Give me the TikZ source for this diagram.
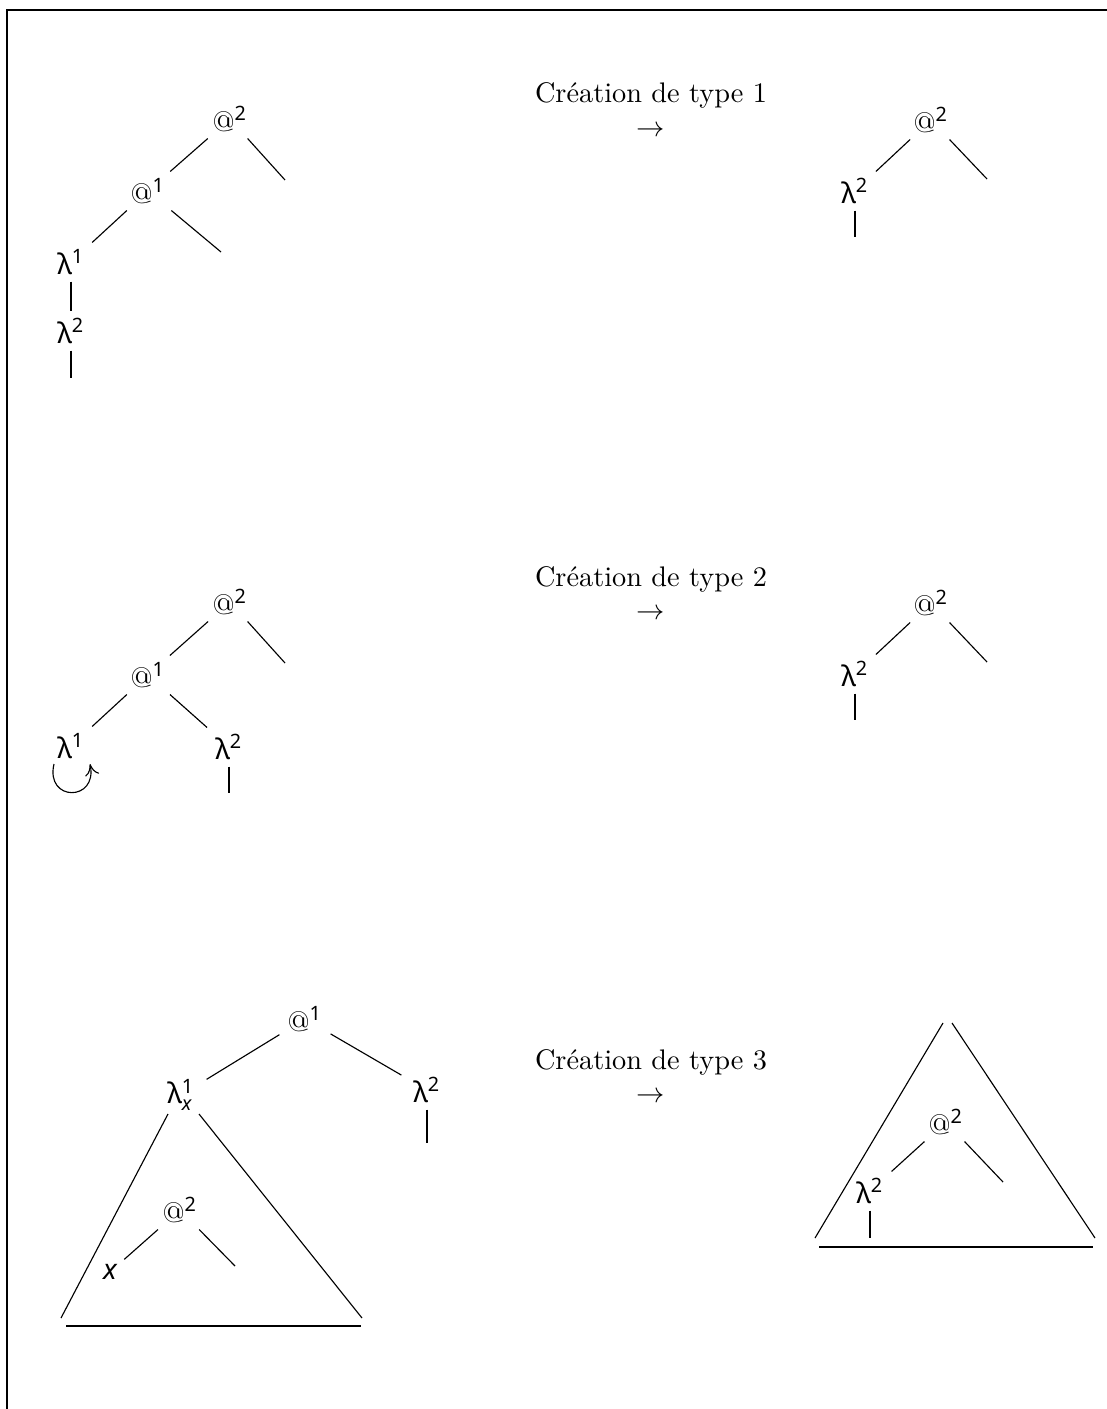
\documentclass[tikz,border=0pt]{standalone}
\usepackage{amsmath}
\usepackage{fontspec}
\usetikzlibrary{arrows.meta}
\newfontfamily\tf{Noto Sans}
\newcommand\atn[1]{@\textsuperscript{\tf #1}}
\newcommand\lamn[1]{{\tf λ}\textsuperscript{\tf #1}}
\begin{document}
\begin{tikzpicture}[x=0.3533pt,y=-0.3533pt,
  lab/.style={inner sep=0pt,minimum width=17.7pt,minimum height=13.4pt},
  smalllab/.style={inner sep=0pt,minimum width=10.6pt,minimum height=8.5pt},
  ttl/.style={anchor=base,inner sep=0pt},
  arr/.style={inner sep=0pt},
  every path/.style={line width=0.4pt}]
\useasboundingbox (0,0) rectangle (1107,1409);
\draw[line width=0.5pt] (7,1409) -- (7,10) -- (1107,10);

% ---------- panel 1 ----------
\node[ttl] (t1) at (651,103) {Création de type 1};
\node[arr] (r1) at (651,131) {$\rightarrow$};
\node[lab] (a2) at (230,119) {\atn{2}};
\node[lab] (a1) at (148,191) {\atn{1}};
\node[lab] (l1) at (71,262) {\lamn{1}};
\node[lab] (l2) at (71,331) {\lamn{2}};
\coordinate (a2r) at (285,180);
\coordinate (a1r) at (221,252);
\coordinate (l2e) at (71,378);
\draw (a2) -- (a1);
\draw (a2) -- (a2r);
\draw (a1) -- (l1);
\draw (a1) -- (a1r);
\draw (l1) -- (l2);
\draw (l2) -- (l2e);

\node[lab] (b2) at (931,120) {\atn{2}};
\node[lab] (bl2) at (855,191) {\lamn{2}};
\coordinate (b2r) at (987,179);
\coordinate (bl2e) at (855,237);
\draw (b2) -- (bl2);
\draw (b2) -- (b2r);
\draw (bl2) -- (bl2e);

% ---------- panel 2 ----------
\node[ttl] (t2) at (651,586) {Création de type 2};
\node[arr] (r2) at (651,614) {$\rightarrow$};
\node[lab] (c2) at (230,602) {\atn{2}};
\node[lab] (c1) at (148,675) {\atn{1}};
\node[lab] (cl1) at (71,746) {\lamn{1}};
\node[lab] (cl2) at (229,747) {\lamn{2}};
\coordinate (c2r) at (285,663);
\coordinate (cl2e) at (229,793);
\coordinate (lpA) at (54,764);
\coordinate (lpB) at (90,764);
\draw (c2) -- (c1);
\draw (c2) -- (c2r);
\draw (c1) -- (cl1);
\draw (c1) -- (cl2);
\draw (cl2) -- (cl2e);
\draw[-{To[length=4pt,width=5pt]}] (lpA) .. controls (45,802) and (98,802) .. (lpB);

\node[lab] (d2) at (931,603) {\atn{2}};
\node[lab] (dl2) at (855,674) {\lamn{2}};
\coordinate (d2r) at (987,662);
\coordinate (dl2e) at (855,720);
\draw (d2) -- (dl2);
\draw (d2) -- (d2r);
\draw (dl2) -- (dl2e);

% ---------- panel 3 ----------
\node[ttl] (t3) at (651,1069) {Création de type 3};
\node[arr] (r3) at (651,1097) {$\rightarrow$};
\node[lab] (e1) at (305,1019) {\atn{1}};
\node[lab] (ex) at (181,1095) {{\tf λ}$^{\text{\tf 1}}_{\text{\tf\itshape x}}$};
\node[lab] (el2) at (427,1090) {\lamn{2}};
\coordinate (el2e) at (427,1143);
\draw (e1) -- (ex);
\draw (e1) -- (el2);
\draw (el2) -- (el2e);
% triangle under the abstraction
\draw (168,1114) -- (61,1318);
\draw (199,1114) -- (362,1318);
\draw (66,1326) -- (361,1326);
\node[lab] (f2) at (180,1210) {\atn{2}};
\node[smalllab] (fx) at (110,1272) {{\tf\itshape x}};
\coordinate (f2r) at (235,1266);
\draw (f2) -- (fx);
\draw (f2) -- (f2r);

% right triangle
\draw (943,1023) -- (815,1238);
\draw (952,1023) -- (1095,1238);
\draw (819,1247) -- (1093,1247);
\node[lab] (g2) at (946,1122) {\atn{2}};
\node[lab] (gl2) at (870,1191) {\lamn{2}};
\coordinate (g2r) at (1003,1182);
\coordinate (gl2e) at (870,1238);
\draw (g2) -- (gl2);
\draw (g2) -- (g2r);
\draw (gl2) -- (gl2e);
\end{tikzpicture}
\end{document}
